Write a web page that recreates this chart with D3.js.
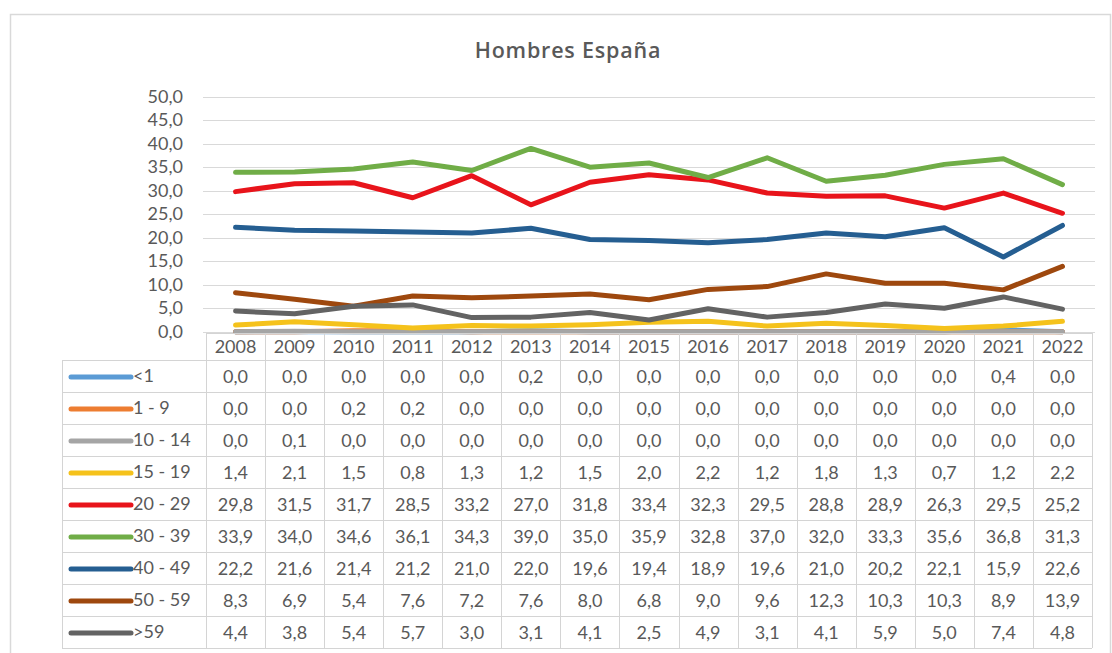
<!DOCTYPE html>
<html>
<head>
<meta charset="utf-8">
<script src="https://cdn.jsdelivr.net/npm/d3@7"></script>
<style>
  html, body { margin: 0; padding: 0; background: #ffffff; }
  svg { display: block; }
  text { font-family: Lato, "Open Sans", sans-serif; fill: #595959; }
  text.chart-title { font-family: "Open Sans", Lato, sans-serif; }
</style>
</head>
<body>
<svg id="chart" width="1112" height="653"></svg>
<script>
// Years shown along the x axis and in the table header
const years = ["2008","2009","2010","2011","2012","2013","2014","2015","2016","2017","2018","2019","2020","2021","2022"];

// Age groups (series names) and their colours
const groups = ["<1", "1 - 9", "10 - 14", "15 - 19", "20 - 29", "30 - 39", "40 - 49", "50 - 59", ">59"];
const colors = ["#5b9bd5", "#ed7d31", "#a5a5a5", "#f5c21b", "#e8141b", "#70ad47", "#255e91", "#9e480e", "#636363"];

// Values per age group, 2008–2022
const lt1    = [0.0,0.0,0.0,0.0,0.0,0.2,0.0,0.0,0.0,0.0,0.0,0.0,0.0,0.4,0.0];
const g1_9   = [0.0,0.0,0.2,0.2,0.0,0.0,0.0,0.0,0.0,0.0,0.0,0.0,0.0,0.0,0.0];
const g10_14 = [0.0,0.1,0.0,0.0,0.0,0.0,0.0,0.0,0.0,0.0,0.0,0.0,0.0,0.0,0.0];
const g15_19 = [1.4,2.1,1.5,0.8,1.3,1.2,1.5,2.0,2.2,1.2,1.8,1.3,0.7,1.2,2.2];
const g20_29 = [29.8,31.5,31.7,28.5,33.2,27.0,31.8,33.4,32.3,29.5,28.8,28.9,26.3,29.5,25.2];
const g30_39 = [33.9,34.0,34.6,36.1,34.3,39.0,35.0,35.9,32.8,37.0,32.0,33.3,35.6,36.8,31.3];
const g40_49 = [22.2,21.6,21.4,21.2,21.0,22.0,19.6,19.4,18.9,19.6,21.0,20.2,22.1,15.9,22.6];
const g50_59 = [8.3,6.9,5.4,7.6,7.2,7.6,8.0,6.8,9.0,9.6,12.3,10.3,10.3,8.9,13.9];
const gt59   = [4.4,3.8,5.4,5.7,3.0,3.1,4.1,2.5,4.9,3.1,4.1,5.9,5.0,7.4,4.8];

// Y axis tick values
const yTicks = [0,5,10,15,20,25,30,35,40,45,50];

const title = "Hombres España";

const seriesValues = [lt1, g1_9, g10_14, g15_19, g20_29, g30_39, g40_49, g50_59, gt59];
const series = groups.map((name, i) => ({ name, color: colors[i], values: seriesValues[i] }));

const fmt = v => v.toFixed(1).replace(".", ",");
const FS = 18;

const svg = d3.select("#chart");

// Outer chart frame
svg.append("rect")
  .attr("x", 10.5).attr("y", 14.5)
  .attr("width", 1100).attr("height", 660)
  .attr("fill", "#ffffff")
  .attr("stroke", "#d9d9d9").attr("stroke-width", 1.5);

// Title
svg.append("text")
  .attr("class", "chart-title")
  .attr("x", 568).attr("y", 58)
  .attr("text-anchor", "middle")
  .attr("font-size", 21.5).attr("font-weight", 600)
  .attr("letter-spacing", 0.8)
  .text(title);

// Scales
const plotLeft = 206, plotRight = 1092;
const x = d3.scaleBand().domain(years).range([plotLeft, plotRight]).padding(0);
const y = d3.scaleLinear().domain([0, 50]).range([331.7, 96.7]);
const cx = yr => x(yr) + x.bandwidth() / 2;

// Horizontal gridlines
svg.append("g")
  .selectAll("line")
  .data(yTicks)
  .join("line")
  .attr("x1", plotLeft - 3).attr("x2", plotRight + 3)
  .attr("y1", d => Math.round(y(d)) + 0.5).attr("y2", d => Math.round(y(d)) + 0.5)
  .attr("stroke", "#d9d9d9").attr("stroke-width", 1);

// Y axis labels
svg.append("g")
  .selectAll("text")
  .data(yTicks)
  .join("text")
  .attr("x", 183).attr("y", d => y(d) + 6)
  .attr("text-anchor", "end")
  .attr("font-size", FS)
  .text(d => fmt(d));

// Series lines
const line = d3.line()
  .x((d, i) => cx(years[i]))
  .y(d => y(d));

svg.append("g")
  .selectAll("path")
  .data(series)
  .join("path")
  .attr("d", d => line(d.values))
  .attr("fill", "none")
  .attr("stroke", d => d.color)
  .attr("stroke-width", 5)
  .attr("stroke-linejoin", "round")
  .attr("stroke-linecap", "round");

// Data table
const headerTop = 333, headerBottom = 360, rowH = 32;
const tableLeft = 62;
const tableBottom = headerBottom + rowH * series.length;
const grid = svg.append("g").attr("stroke", "#d4d4d4").attr("stroke-width", 1);

// header horizontal line
grid.append("line")
  .attr("x1", plotLeft).attr("x2", plotRight)
  .attr("y1", headerTop + 0.5).attr("y2", headerTop + 0.5);
// row lines
grid.selectAll("line.row")
  .data(d3.range(series.length + 1))
  .join("line").attr("class", "row")
  .attr("x1", tableLeft).attr("x2", plotRight)
  .attr("y1", i => headerBottom + i * rowH + 0.5)
  .attr("y2", i => headerBottom + i * rowH + 0.5);
// left border of label column
grid.append("line")
  .attr("x1", tableLeft + 0.5).attr("x2", tableLeft + 0.5)
  .attr("y1", headerBottom).attr("y2", tableBottom);
// column lines
grid.selectAll("line.col")
  .data(years.concat(["end"]))
  .join("line").attr("class", "col")
  .attr("x1", d => Math.round(d === "end" ? plotRight : x(d)) + 0.5)
  .attr("x2", d => Math.round(d === "end" ? plotRight : x(d)) + 0.5)
  .attr("y1", headerTop).attr("y2", tableBottom);

// Header years
svg.append("g")
  .selectAll("text")
  .data(years)
  .join("text")
  .attr("x", d => cx(d))
  .attr("y", (headerTop + headerBottom) / 2 + 6.5)
  .attr("text-anchor", "middle")
  .attr("font-size", FS)
  .text(d => d);

// Rows: legend key, label and values
const rows = svg.append("g")
  .selectAll("g")
  .data(series)
  .join("g")
  .attr("transform", (d, i) => `translate(0,${headerBottom + i * rowH + rowH / 2})`);

rows.append("line")
  .attr("x1", 71).attr("x2", 131)
  .attr("y1", 1).attr("y2", 1)
  .attr("stroke", d => d.color)
  .attr("stroke-width", 5)
  .attr("stroke-linecap", "round");

rows.append("text")
  .attr("x", 133).attr("y", 6)
  .attr("font-size", FS)
  .text(d => d.name);

rows.selectAll("text.val")
  .data(d => d.values)
  .join("text").attr("class", "val")
  .attr("x", (v, i) => cx(years[i]))
  .attr("y", 7)
  .attr("text-anchor", "middle")
  .attr("font-size", FS)
  .text(v => fmt(v));
</script>
</body>
</html>
